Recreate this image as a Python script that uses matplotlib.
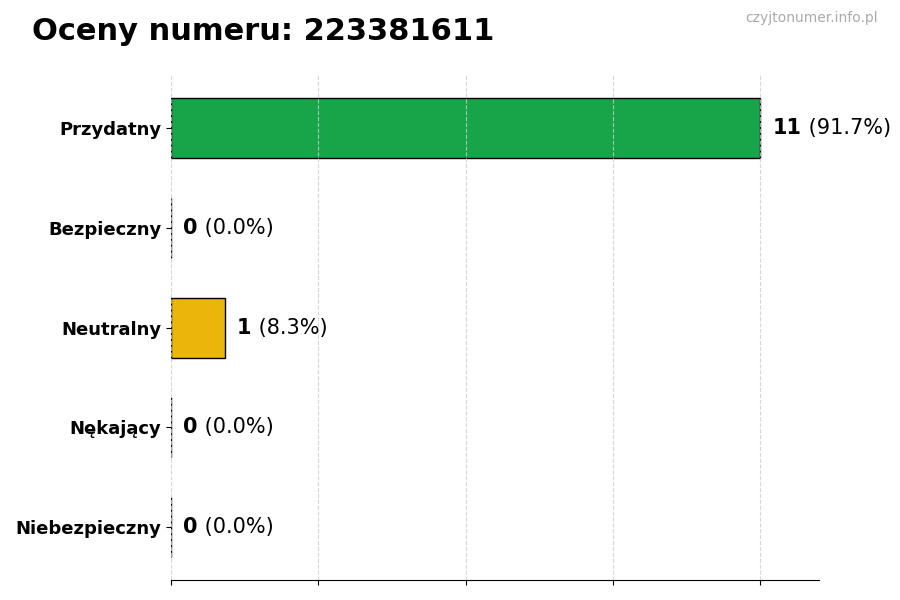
import matplotlib
matplotlib.use('Agg')
import matplotlib.pyplot as plt

# data
categories = ['Przydatny', 'Bezpieczny', 'Neutralny', 'Nękający', 'Niebezpieczny']
counts = [11, 0, 1, 0, 0]
colors = ['#18a54a', '#2e8b57', '#e9b609', '#e07b00', '#d62728']
title = 'Oceny numeru: 223381611'
watermark = 'czyjtonumer.info.pl'

total = sum(counts)
max_val = max(counts)

fig = plt.figure(figsize=(9, 6), dpi=100)
ax = fig.add_axes([0.19, 0.033, 0.72, 0.842])

ypos = list(range(len(categories)))
ax.barh(ypos, counts, height=0.6, color=colors, edgecolor='black', linewidth=1)
ax.set_yticks(ypos)
ax.set_yticklabels(categories, fontsize=13, fontweight='bold')
ax.invert_yaxis()

ax.set_xlim(0, max_val * 1.1)
ax.set_xticks([max_val * i / 4 for i in range(5)])
ax.set_xticklabels([])
ax.grid(axis='x', linestyle='--', color='#cccccc', alpha=0.8, linewidth=0.8)

for s in ['top', 'right', 'left']:
    ax.spines[s].set_visible(False)

fig.canvas.draw()
for y, c in zip(ypos, counts):
    pct = c / total * 100
    t1 = ax.annotate(str(c), xy=(c, y), xytext=(9, 0), textcoords='offset points',
                     va='center', ha='left', fontsize=15, fontweight='bold')
    ax.annotate(' (%.1f%%)' % pct, xy=(1, 0), xycoords=t1, va='bottom', ha='left',
                fontsize=15)

fig.text(0.035, 0.947, title, fontsize=22, fontweight='bold', va='center', ha='left')
fig.text(0.975, 0.97, watermark, fontsize=10, color='#aaaaaa', va='center', ha='right')

fig.savefig('out.png', dpi=100)
